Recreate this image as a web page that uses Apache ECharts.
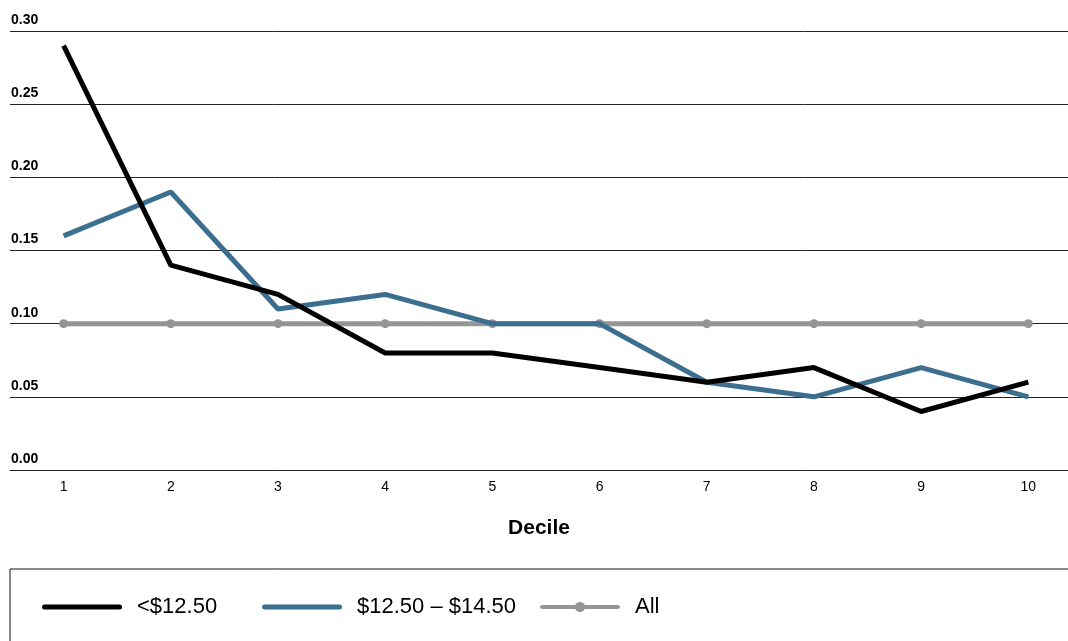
<!DOCTYPE html>
<html>
<head>
<meta charset="utf-8">
<script src="https://cdn.jsdelivr.net/npm/echarts@6/dist/echarts.min.js"></script>
<style>html,body{margin:0;padding:0;background:#fff}#c{width:1068px;height:641px}</style>
</head>
<body>
<div id="c"></div>
<script>
const categories = [1, 2, 3, 4, 5, 6, 7, 8, 9, 10];
const under1250 = [0.29, 0.14, 0.12, 0.08, 0.08, 0.07, 0.06, 0.07, 0.04, 0.06];
const mid1250to1450 = [0.16, 0.19, 0.11, 0.12, 0.10, 0.10, 0.06, 0.05, 0.07, 0.05];
const allWorkers = [0.10, 0.10, 0.10, 0.10, 0.10, 0.10, 0.10, 0.10, 0.10, 0.10];
const seriesNames = ['<$12.50', '$12.50 – $14.50', 'All'];
const yTicks = {min: 0, max: 0.30, interval: 0.05};

const FONT = '"Liberation Sans", Arial, Helvetica, sans-serif';
const colors = ['#000000', '#3b6e8f', '#959595'];

const pair = arr => categories.map((c, i) => [c, arr[i]]);

const lineIcon = 'path://M2.5,0 L77.5,0 A2.5,2.5 0 0 1 77.5,5 L2.5,5 A2.5,2.5 0 0 1 2.5,0 Z';
const dotLineIcon = 'path://M2.5,2.5 L35.2,2.5 A5,5 0 0 1 44.8,2.5 L77.5,2.5 A2.5,2.5 0 0 1 77.5,7.5 L44.8,7.5 A5,5 0 0 1 35.2,7.5 L2.5,7.5 A2.5,2.5 0 0 1 2.5,2.5 Z';

function legendFor(i, left, icon, h) {
  return {
    left: left, top: 596, padding: 0,
    itemWidth: 80, itemHeight: h,
    symbolKeepAspect: false,
    icon: icon,
    data: [{name: seriesNames[i], icon: icon, itemStyle: {color: colors[i], borderWidth: 0}}],
    selectedMode: false,
    textStyle: {fontFamily: FONT, fontSize: 22, color: '#000', padding: [0, 0, 0, 10]}
  };
}

const chart = echarts.init(document.getElementById('c'));
chart.setOption({
  animation: false,
  backgroundColor: '#fff',
  grid: {left: 10, right: 0, top: 31, bottom: 171, containLabel: false},
  xAxis: {
    type: 'value',
    min: 0.5, max: 10.37,
    splitLine: {show: false},
    axisLine: {show: true, lineStyle: {color: '#222', width: 1}},
    axisTick: {show: false},
    axisLabel: {
      fontFamily: FONT, fontSize: 14, color: '#000', margin: 10,
      customValues: categories,
      formatter: v => String(v)
    },
    name: 'Decile',
    nameLocation: 'middle',
    nameGap: 48,
    nameTextStyle: {fontFamily: FONT, fontSize: 21, fontWeight: 'bold', color: '#000', padding: [0, 0, 0, 0]}
  },
  yAxis: {
    type: 'value',
    min: yTicks.min, max: yTicks.max, interval: yTicks.interval,
    axisLine: {show: false},
    axisTick: {show: false},
    splitLine: {show: true, lineStyle: {color: '#222', width: 1}},
    axisLabel: {
      inside: true, margin: 1,
      align: 'left', verticalAlign: 'bottom',
      padding: [0, 0, 4, 0],
      fontFamily: FONT, fontSize: 14, fontWeight: 'bold', color: '#000',
      formatter: v => v.toFixed(2)
    }
  },
  legend: [legendFor(0, 42, lineIcon, 5), legendFor(1, 262, lineIcon, 5), legendFor(2, 540, dotLineIcon, 10)],
  graphic: [{
    type: 'rect', silent: true, z: -1,
    shape: {x: 10, y: 569, width: 1080, height: 120},
    style: {fill: 'none', stroke: '#111', lineWidth: 1}
  }],
  series: [
    {
      name: seriesNames[0], type: 'line', data: pair(under1250),
      symbol: 'none', color: colors[0], z: 4,
      lineStyle: {width: 5, color: colors[0]}
    },
    {
      name: seriesNames[1], type: 'line', data: pair(mid1250to1450),
      symbol: 'none', color: colors[1], z: 3,
      lineStyle: {width: 5, color: colors[1]}
    },
    {
      name: seriesNames[2], type: 'line', data: pair(allWorkers),
      symbol: 'circle', symbolSize: 9, color: colors[2], z: 2,
      itemStyle: {color: colors[2]},
      lineStyle: {width: 5, color: colors[2]}
    }
  ]
});
</script>
</body>
</html>
